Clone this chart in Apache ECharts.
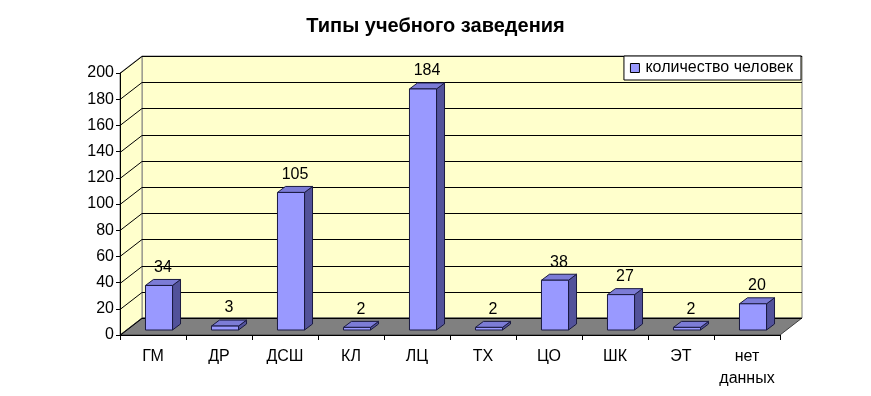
<!DOCTYPE html>
<html><head><meta charset="utf-8">
<script src="https://cdn.jsdelivr.net/npm/echarts@6/dist/echarts.min.js"></script>
<style>html,body{margin:0;padding:0;background:#fff}#c{width:871px;height:396px}</style>
</head><body><div id="c"></div>
<script>
var categories = ['ГМ','ДР','ДСШ','КЛ','ЛЦ','ТХ','ЦО','ШК','ЭТ','нет\nданных'];
var values = [34,3,105,2,184,2,38,27,2,20];
var yTicks = [0,20,40,60,80,100,120,140,160,180,200];
var seriesName = 'количество человек';
var title = 'Типы учебного заведения';

var FONT = '"Liberation Sans", Arial, sans-serif';
var DX = 22, DY = -17;          // wall depth
var BF = [6, -5], BB = [14, -11]; // bar front/back depth offsets
var BARW = 0.41;

var chart = echarts.init(document.getElementById('c'), null, {renderer:'canvas'});

function wallsRender(params, api){
  var cs = params.coordSys;
  var x0 = cs.x, x1 = cs.x + cs.width, yb = cs.y + cs.height, yt = cs.y;
  return {type:'group', children:[
    {type:'polygon', shape:{points:[[x0+DX,yt+DY],[x1+DX,yt+DY],[x1+DX,yb+DY],[x0+DX,yb+DY]]},
      style:{fill:'#FFFFCC', stroke:'#808080', lineWidth:1}},
    {type:'polygon', shape:{points:[[x0,yb],[x0,yt],[x0+DX,yt+DY],[x0+DX,yb+DY]]},
      style:{fill:'#FFFFCC', stroke:'#808080', lineWidth:1}},
    {type:'polygon', shape:{points:[[x0,yb],[x1,yb],[x1+DX,yb+DY],[x0+DX,yb+DY]]},
      style:{fill:'#808080', stroke:'#404040', lineWidth:1}}
  ]};
}

function gridRender(params, api){
  var cs = params.coordSys;
  var x0 = cs.x, x1 = cs.x + cs.width;
  var p = api.coord([0, api.value(0)]);
  var y = Math.round(p[1]) + 0.5;
  return {type:'group', children:[
    {type:'line', shape:{x1:x0, y1:y, x2:x0+DX, y2:y+DY}, style:{stroke:'#000', lineWidth:1}},
    {type:'line', shape:{x1:x0+DX, y1:y+DY, x2:x1+DX, y2:y+DY}, style:{stroke:'#000', lineWidth:1}}
  ]};
}

function barRender(params, api){
  var idx = api.value(0), v = api.value(1);
  var top = api.coord([idx, v]);
  var bot = api.coord([idx, 0]);
  var w = api.size([1, 0])[0] * BARW;
  var cx = top[0] + BF[0];
  var l = cx - w/2, r = cx + w/2;
  var yt = top[1] + BF[1], yb = bot[1] + BF[1];
  var ddx = BB[0]-BF[0], ddy = BB[1]-BF[1];
  var st = {stroke:'#1a1a40', lineWidth:1, lineJoin:'round'};
  return {type:'group', children:[
    {type:'polygon', shape:{points:[[r,yb],[r,yt],[r+ddx,yt+ddy],[r+ddx,yb+ddy]]},
      style:Object.assign({fill:'#52529A'}, st)},
    {type:'polygon', shape:{points:[[l,yt],[r,yt],[r+ddx,yt+ddy],[l+ddx,yt+ddy]]},
      style:Object.assign({fill:'#7C7CD6'}, st)},
    {type:'rect', shape:{x:l, y:yt, width:w, height:yb-yt},
      style:Object.assign({fill:'#9999FF'}, st)},
    {type:'text', x:cx+4, y:yt-10, style:{text:String(v), fill:'#000', font:'16px '+FONT, align:'center', verticalAlign:'bottom'}}
  ]};
}

chart.setOption({
  animation:false,
  backgroundColor:'#fff',
  title:{text:title, left:'center', top:11, textStyle:{fontFamily:FONT, fontWeight:'bold', fontSize:20, color:'#000'}},
  legend:{
    data:[{name:seriesName, icon:'rect', itemStyle:{color:'#9999FF', borderColor:'#000', borderWidth:1}}],
    right:70, top:56, orient:'vertical',
    backgroundColor:'#fff', borderColor:'#000', borderWidth:1,
    padding:[4,8,4,6], itemWidth:9, itemHeight:9, itemGap:4,
    textStyle:{fontFamily:FONT, fontSize:16, color:'#000', padding:[0,0,0,1]}
  },
  grid:{left:120, right:91, top:73, bottom:61, containLabel:false},
  xAxis:{type:'category', data:categories, boundaryGap:true,
    axisLine:{show:true, lineStyle:{color:'#000', width:1}},
    axisTick:{show:true, length:5, lineStyle:{color:'#000'}, alignWithLabel:false},
    axisLabel:{color:'#000', fontFamily:FONT, fontSize:16, margin:11, lineHeight:22, interval:0},
    splitLine:{show:false}, z:5},
  yAxis:{type:'value', min:0, max:200, interval:20,
    axisLine:{show:true, lineStyle:{color:'#000', width:1}},
    axisTick:{show:true, length:4, lineStyle:{color:'#000'}},
    axisLabel:{color:'#000', fontFamily:FONT, fontSize:16, margin:6},
    splitLine:{show:false}, z:5},
  series:[
    {type:'custom', name:'walls', data:[[0]], renderItem:wallsRender, z:1, silent:true, legendHoverLink:false},
    {type:'custom', name:'grid', data:yTicks.map(function(t){return [t];}), renderItem:gridRender, z:2, silent:true},
    {type:'custom', name:seriesName, data:values.map(function(v,i){return [i,v];}), renderItem:barRender, z:3,
      itemStyle:{color:'#9999FF'}, encode:{x:0, y:1}}
  ]
});
</script></body></html>
